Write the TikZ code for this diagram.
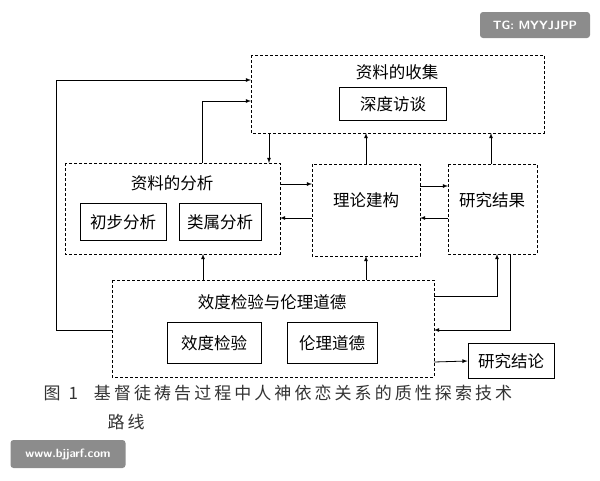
\documentclass[tikz,border=0pt]{standalone}
\usepackage{fontspec}
\newfontfamily\cjk{Noto Sans CJK SC}
\usetikzlibrary{calc, positioning}
\tikzset{
  sbox/.style={draw, thick, inner sep=4pt, font=\cjk\fontsize{16.5}{16.5}\selectfont},
  ttl/.style={font=\cjk\fontsize{16.5}{16.5}\selectfont},
  link/.style={-latex, thick},
  grp/.style={thick, dash pattern=on 3pt off 2pt}
}
\begin{document}
\begin{tikzpicture}[x=1pt, y=-1pt]
      \useasboundingbox (0,0) rectangle (600,480);

      % dashed groups
      \draw[grp] (251,55) rectangle (544,133);
      \coordinate (colL1) at (251,80);
      \coordinate (colL2) at (251,101);
      \node[ttl] (coltitle) at (397,72) {资料的收集};
      \node[sbox, minimum width=107pt, minimum height=33pt] (interview) at (393,104) {深度访谈};

      \draw[grp] (65,163) rectangle (280,254);
      \node[ttl] (antitle) at (172,183) {资料的分析};
      \node[sbox, minimum width=86pt, minimum height=37pt] (prelim) at (123,222) {初步分析};
      \node[sbox, minimum width=82pt, minimum height=37pt] (categ) at (220,222) {类属分析};

      \draw[grp] (312,164) rectangle (420,256);
      \node[ttl] (theory) at (366,200) {理论建构};

      \draw[grp] (448,164) rectangle (537,254);
      \node[ttl] (results) at (492,200) {研究结果};

      \draw[grp] (112,280) rectangle (434,377);
      \node[ttl] (valtitle) at (272,302) {效度检验与伦理道德};
      \node[sbox, minimum width=94pt, minimum height=41pt] (validity) at (214,343) {效度检验};
      \node[sbox, minimum width=90pt, minimum height=41pt] (ethics) at (332,343) {伦理道德};

      \node[sbox, minimum width=86pt, minimum height=35pt] (concl) at (511,361) {研究结论};

      % connectors
      \draw[link] (112,330) -- (56,330) -- (56,80) -- (colL1);
      \draw[link] (202,163) -- (202,101) -- (colL2);
      \draw[link] (269,133) -- (269,163);
      \draw[link] (280,184) -- (312,184);
      \draw[link] (312,218) -- (280,218);
      \draw[link] (366,164) -- (366,133);
      \draw[link] (420,186) -- (448,186);
      \draw[link] (448,218) -- (420,218);
      \draw[link] (491,164) -- (491,133);
      \draw[link] (203,280) -- (203,254);
      \draw[link] (366,280) -- (366,256);
      \draw[link] (434,296) -- (497,296) -- (497,254);
      \draw[link] (510,254) -- (510,330) -- (434,330);
      \draw[link] (434,362) -- (concl.west);

      % caption
      \node[anchor=west, font=\cjk\fontsize{17}{17}\selectfont\addfontfeature{LetterSpace=18}, text=black!80] (cap1) at (40,393) {图\hspace{8pt}1\hspace{16pt}基督徒祷告过程中人神依恋关系的质性探索技术};
      \node[anchor=west, font=\cjk\fontsize{17}{17}\selectfont\addfontfeature{LetterSpace=18}, text=black!80] (cap2) at (104,422) {路线};

      % watermarks
      \node[fill=black!45, rounded corners=3pt, text=white, font=\sffamily\bfseries\fontsize{12}{12}\selectfont, minimum width=110pt, minimum height=26pt] (wm1) at (535,25) {TG: MYYJJPP};
      \node[fill=black!45, rounded corners=3pt, text=white, font=\sffamily\bfseries\fontsize{12}{12}\selectfont, minimum width=115pt, minimum height=28pt] (wm2) at (68,454) {www.bjjarf.com};
\end{tikzpicture}
\end{document}
